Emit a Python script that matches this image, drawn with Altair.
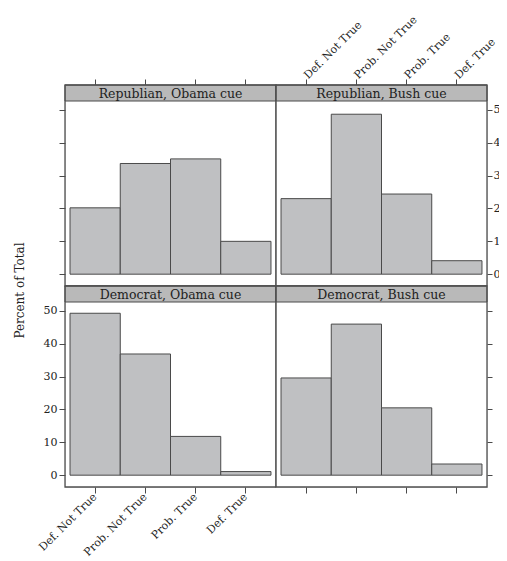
import altair as alt
import pandas as pd

categories = ["Def. Not True", "Prob. Not True", "Prob. True", "Def. True"]
panel_titles = ["Republian, Obama cue", "Republian, Bush cue",
                "Democrat, Obama cue", "Democrat, Bush cue"]
rep_obama = [20.2, 33.7, 35.1, 10.0]
rep_bush = [23.0, 48.7, 24.4, 4.1]
dem_obama = [49.3, 36.9, 11.8, 1.1]
dem_bush = [29.6, 46.0, 20.5, 3.4]
y_ticks = [0, 10, 20, 30, 40, 50]

W, H, STRIP = 211, 201, 16
FONT = "DejaVu Serif"
BAR_FILL = "#bfc0c2"
STRIP_FILL = "#b9b9b9"
LINE = "#4a4a4a"
FRAME = "#505050"
TEXT = "#222222"


def x_axis(orient, labels):
    return alt.Axis(
        orient=orient, labels=labels, ticks=True, tickSize=6, tickColor=LINE,
        domain=False, grid=False, labelAngle=-45,
        labelAlign="right" if orient == "bottom" else "left",
        labelBaseline="middle", labelFont=FONT, labelFontSize=11,
        labelColor=TEXT, labelPadding=2,
    )


def y_axis(orient, labels, title=False):
    kw = dict(
        orient=orient, labels=labels, ticks=True,
        tickSize=6 if orient == "left" else 5, tickColor=LINE,
        domain=False, grid=False, values=y_ticks, labelFont=FONT,
        labelFontSize=11, labelColor=TEXT,
        labelPadding=2 if orient == "left" else 1,
    )
    if title:
        kw.update(title="Percent of Total", titleFont=FONT, titleFontSize=12,
                  titleFontWeight="normal", titleColor=TEXT, titleX=-39, titleY=4)
    else:
        kw.update(title=None)
    return alt.Axis(**kw)


def make_panel(title, values, xa, ya):
    df = pd.DataFrame({"response": categories, "pct": values})
    bars = alt.Chart(df).mark_bar(fill=BAR_FILL, stroke=LINE, strokeWidth=1).encode(
        x=alt.X("response:N", sort=categories, title=None,
                scale=alt.Scale(paddingInner=0, paddingOuter=0.1), axis=xa),
        y=alt.Y("pct:Q", scale=alt.Scale(domain=[-3.6, 57.6], nice=False, zero=False),
                axis=ya),
        y2=alt.datum(0),
    )
    tdf = pd.DataFrame({"label": [title]})
    strip = alt.Chart(tdf).mark_rect(fill=STRIP_FILL, stroke=LINE, strokeWidth=1).encode(
        x=alt.value(0), x2=alt.value(W), y=alt.value(0), y2=alt.value(STRIP))
    text = alt.Chart(tdf).mark_text(font=FONT, fontSize=12.5, color=TEXT).encode(
        x=alt.value(W / 2), y=alt.value(STRIP / 2 + 0.5), text="label:N")
    frame = alt.Chart(tdf).mark_rect(filled=False, stroke=FRAME, strokeWidth=1.3).encode(
        x=alt.value(0), x2=alt.value(W), y=alt.value(0), y2=alt.value(H))
    return alt.layer(bars, strip, text, frame).properties(width=W, height=H)


tl = make_panel(panel_titles[0], rep_obama, x_axis("top", False), y_axis("left", False))
tr = make_panel(panel_titles[1], rep_bush, x_axis("top", True), y_axis("right", True))
bl = make_panel(panel_titles[2], dem_obama, x_axis("bottom", True), y_axis("left", True, True))
br = make_panel(panel_titles[3], dem_bush, x_axis("bottom", False), y_axis("right", False))

chart = alt.concat(tl, tr, bl, br, columns=2, spacing=0, align="all",
                   bounds="flush").properties(
    padding={"left": 4, "top": 5, "right": -9, "bottom": 0}
).configure_view(strokeWidth=0).configure(background="white")

chart.save("out.html", embed_options={"renderer": "svg", "actions": False})
